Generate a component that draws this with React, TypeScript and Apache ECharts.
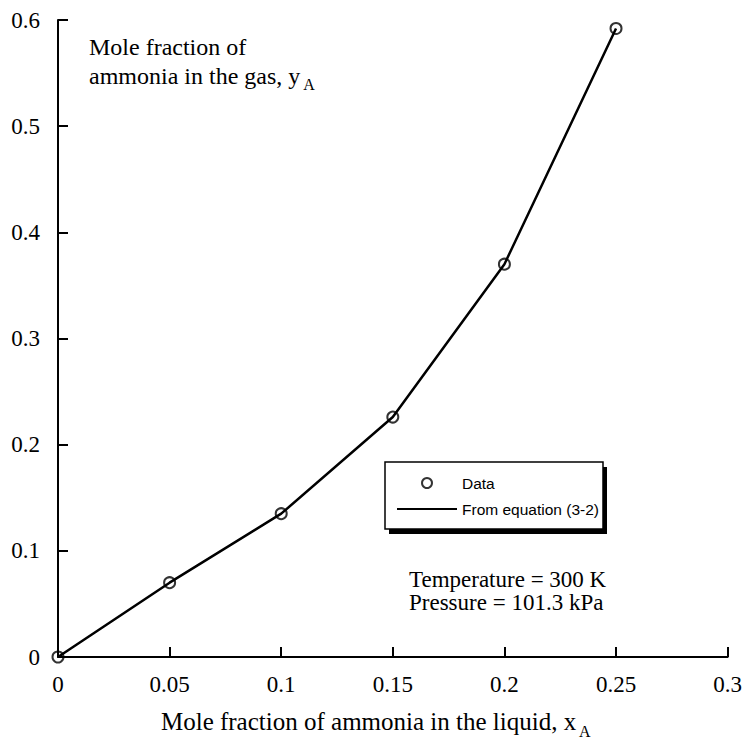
import React, { useEffect, useRef } from "react";
import * as echarts from "echarts";

const xData: number[] = [0, 0.05, 0.1, 0.15, 0.2, 0.25];
const yData: number[] = [0, 0.07, 0.135, 0.226, 0.37, 0.592];
const xTicks = { min: 0, max: 0.3, interval: 0.05 };
const yTicks = { min: 0, max: 0.6, interval: 0.1 };
const dataName = "Data";
const eqName = "From equation (3-2)";
const xTitle = "Mole fraction of ammonia in the liquid, x";
const yTitle1 = "Mole fraction of";
const yTitle2 = "ammonia in the gas, y";
const conditions = ["Temperature = 300 K", "Pressure = 101.3 kPa"];

const SERIF = "Liberation Serif";
const SANS = "Liberation Sans";

export default function App() {
  const ref = useRef<HTMLDivElement>(null);
  useEffect(() => {
    if (!ref.current) return;
    const chart = echarts.init(ref.current, null, { renderer: "svg" });
    const pts = xData.map((x, i) => [x, yData[i]]);
    const axisCommon = {
      axisLine: { show: true, lineStyle: { color: "#000", width: 2 } },
      axisTick: { show: true, inside: true, length: 10, lineStyle: { color: "#000", width: 2 } },
      splitLine: { show: false },
      axisLabel: { color: "#000", fontFamily: SERIF, fontSize: 23, margin: 16 },
    };
    chart.setOption({
      animation: false,
      backgroundColor: "#fff",
      grid: { left: 58, right: 17, top: 20, bottom: 92, containLabel: false },
      xAxis: {
        type: "value",
        ...xTicks,
        ...axisCommon,
        name: `{t|${xTitle}}{s|A}`,
        nameLocation: "middle",
        nameGap: 46,
        nameTextStyle: {
          padding: [0, 34, 0, 0],
          rich: {
            t: { fontFamily: SERIF, fontSize: 25, color: "#000" },
            s: { fontFamily: SERIF, fontSize: 16, color: "#000", padding: [20, 0, 0, 3] },
          },
        },
      },
      yAxis: {
        type: "value",
        ...yTicks,
        ...axisCommon,
        axisLabel: { ...axisCommon.axisLabel, margin: 18 },
      },
      legend: {
        orient: "vertical",
        left: 397,
        top: 475,
        itemWidth: 60,
        itemHeight: 10,
        itemGap: 10,
        padding: 0,
        borderWidth: 0,
        textStyle: { fontFamily: SANS, fontSize: 15.5, color: "#000" },
        data: [
          {
            name: dataName,
            icon: "circle",
            itemStyle: { color: "rgba(0,0,0,0)", borderColor: "#000", borderWidth: 2 },
          },
          {
            name: eqName,
            icon: "path://M0,0H60V2H0Z",
            itemStyle: { color: "#000", borderWidth: 0 },
          },
        ],
      },
      graphic: [
        {
          type: "rect",
          shape: { x: 389, y: 467, width: 218, height: 67 },
          style: { fill: "#000" },
          z: 0,
          zlevel: 0,
        },
        {
          type: "rect",
          shape: { x: 385, y: 462, width: 218, height: 67 },
          style: { fill: "#fff", stroke: "#000", lineWidth: 1.5 },
          z: 1,
          zlevel: 0,
        },
        {
          type: "text",
          left: 89,
          top: 35,
          style: {
            text: `{t|${yTitle1}}\n{t|${yTitle2}}{s|A}`,
            rich: {
              t: { fontFamily: SERIF, fontSize: 24, fill: "#000", lineHeight: 26 },
              s: { fontFamily: SERIF, fontSize: 16, fill: "#000", padding: [16, 0, 0, 3] },
            },
          },
        },
        {
          type: "text",
          left: 409,
          top: 568,
          style: {
            text: conditions.join("\n"),
            fontFamily: SERIF,
            fontSize: 23,
            lineHeight: 23,
            fill: "#000",
          },
        },
      ],
      series: [
        {
          name: eqName,
          type: "line",
          data: pts,
          symbol: "none",
          lineStyle: { color: "#000", width: 2.5 },
          itemStyle: { color: "#000" },
          z: 2,
        },
        {
          name: dataName,
          type: "scatter",
          data: pts,
          symbol: "circle",
          symbolSize: 11,
          itemStyle: { color: "rgba(0,0,0,0)", borderColor: "#000", borderWidth: 2 },
          z: 3,
        },
      ],
    });
    return () => chart.dispose();
  }, []);
  return (
    <div
      ref={ref}
      style={{ position: "fixed", left: 0, top: 0, width: 745, height: 749, background: "#fff" }}
    />
  );
}
